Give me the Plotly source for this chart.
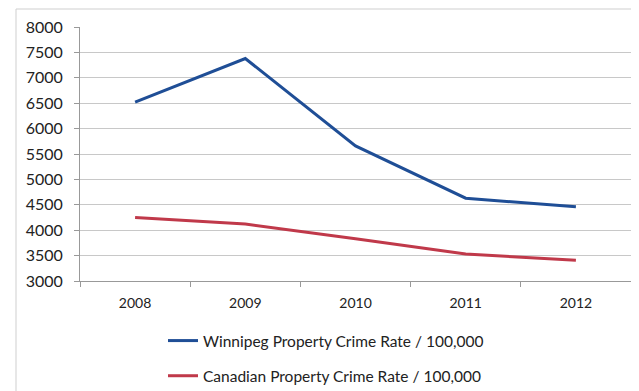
import plotly.graph_objects as go

years = ["2008", "2009", "2010", "2011", "2012"]
winnipeg = [6520, 7380, 5660, 4630, 4460]
canada = [4250, 4120, 3830, 3530, 3410]
y_ticks = [3000, 3500, 4000, 4500, 5000, 5500, 6000, 6500, 7000, 7500, 8000]

fig = go.Figure()
fig.add_trace(go.Scatter(x=years, y=winnipeg, mode="lines",
                         name="Winnipeg Property Crime Rate / 100,000",
                         legendgroup="a",
                         line=dict(color="#1F4E96", width=3)))
fig.add_trace(go.Scatter(x=years, y=canada, mode="lines",
                         name="Canadian Property Crime Rate / 100,000",
                         legendgroup="b",
                         line=dict(color="#C0394A", width=3)))

# page body has an 8px offset; work in figure coordinates (screen - 8)
OFF = 8
W, H = 639 - OFF, 391 - OFF
ml = 80 - OFF
mt = 27 - OFF
mr = 8
mb = H - (281 - OFF)
pw, ph = W - ml - mr, H - mt - mb

def px_x(x):
    return (x - OFF - ml) / pw

def px_y(y):
    return (H - mb - (y - OFF)) / ph

fig.update_layout(
    width=W, height=H,
    margin=dict(l=ml, r=mr, t=mt, b=mb, autoexpand=False),
    paper_bgcolor="white", plot_bgcolor="white",
    font=dict(family="Lato, Open Sans, sans-serif", size=14, color="#222"),
    showlegend=True,
    legend=dict(orientation="v", x=px_x(163), y=px_y(324), xanchor="left", yanchor="top",
                font=dict(size=15.5), tracegroupgap=12, traceorder="grouped"),
    xaxis=dict(type="category", tickson="boundaries", ticks="outside", ticklen=5,
               tickcolor="#999", showline=True, linecolor="#999", linewidth=1,
               showgrid=False, range=[-0.5, 4.5], tickfont=dict(size=14),
               ticklabelstandoff=9),
    yaxis=dict(range=[3000, 8000], tickvals=y_ticks, ticks="outside", ticklen=5,
               tickcolor="#999", showline=True, linecolor="#999", linewidth=1,
               gridcolor="#c8c8c8", gridwidth=1, zeroline=False,
               tickfont=dict(size=16), ticklabelstandoff=8),
    shapes=[dict(type="rect", xref="paper", yref="paper",
                 x0=px_x(16), x1=px_x(645), y0=px_y(400), y1=px_y(9),
                 line=dict(color="#cfcfcf", width=1), fillcolor="rgba(0,0,0,0)",
                 layer="below")],
)

fig.write_html("out.html")
